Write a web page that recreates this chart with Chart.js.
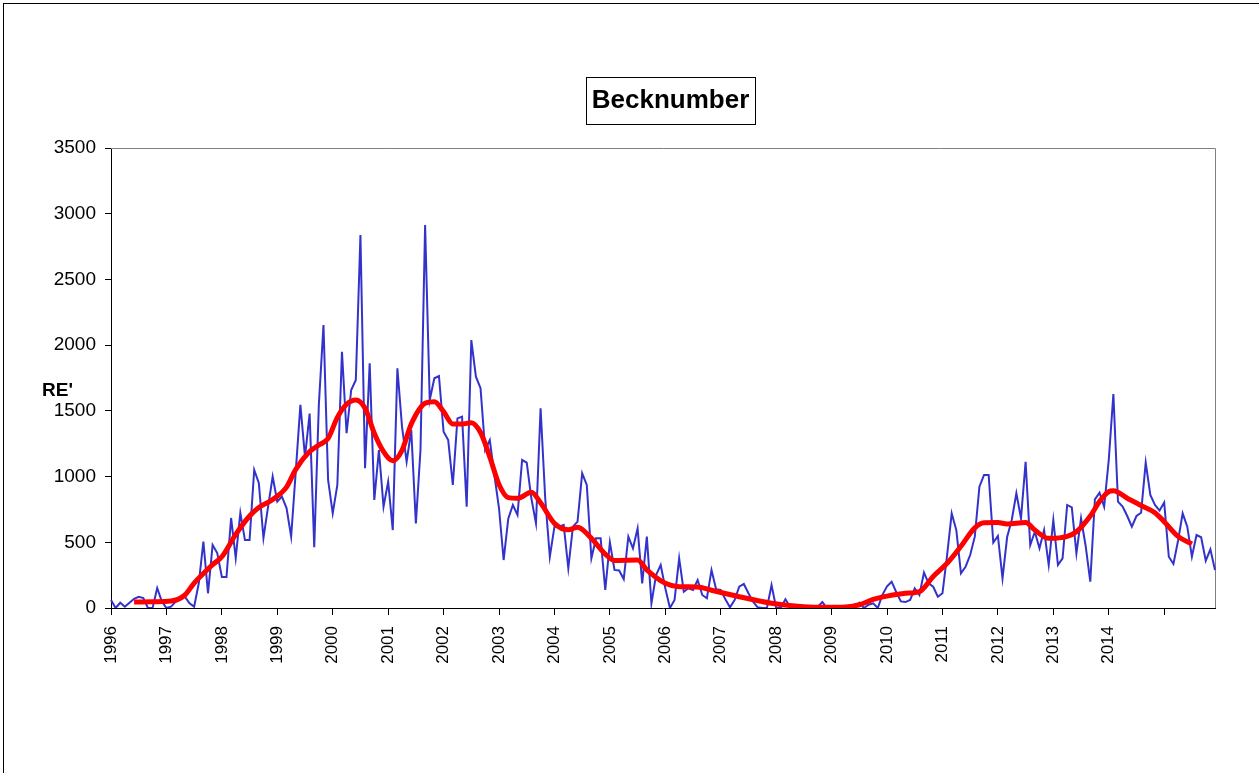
<!DOCTYPE html>
<html>
<head>
<meta charset="utf-8">
<script src="https://cdn.jsdelivr.net/npm/chart.js@4"></script>
<style>
html, body { margin: 0; padding: 0; background: #fff; }
#wrap { width: 1259px; height: 773px; position: relative; }
</style>
</head>
<body>
<div id="wrap"><canvas id="chart" width="1259" height="773"></canvas></div>
<script>
// monthly series, Jan 1996 .. Dec 2015
var firstYear = 1996;
var yearLabels = ['1996', '1997', '1998', '1999', '2000', '2001', '2002', '2003', '2004', '2005',
    '2006', '2007', '2008', '2009', '2010', '2011', '2012', '2013', '2014', ''];

var becknumber = [
    60, 0, 40, 10, 40, 70, 85, 76, 0, 0, 152, 50,
    0, 10, 48, 70, 86, 35, 10, 188, 505, 112, 480, 418,
    236, 236, 685, 380, 723, 517, 517, 1050, 951, 532, 770, 1000,
    810, 847, 760, 543, 1040, 1545, 1150, 1480, 462, 1550, 2153, 974,
    720, 936, 1950, 1330, 1659, 1735, 2838, 1063, 1862, 822, 1202, 771,
    961, 593, 1824, 1380, 1113, 1354, 644, 1202, 2914, 1583, 1748, 1765,
    1341, 1278, 936, 1443, 1456, 771, 2039, 1760, 1672, 1202, 1278, 1012,
    759, 365, 680, 784, 708, 1126, 1106, 835, 644, 1520, 835, 390,
    619, 619, 632, 302, 619, 657, 1025, 936, 378, 530, 530, 137,
    500, 290, 285, 220, 543, 454, 606, 188, 543, 36, 251, 327,
    150, 0, 61, 378, 124, 150, 137, 213, 99, 74, 289, 142,
    137, 66, 5, 61, 162, 183, 112, 48, 5, 0, 0, 175,
    0, 0, 66, 10, 0, 0, 0, 0, 0, 10, 45, 0,
    0, 0, 0, 0, 0, 0, 40, 0, 25, 35, 0, 100,
    165, 200, 120, 50, 45, 61, 150, 99, 269, 188, 162, 86,
    112, 400, 720, 593, 264, 314, 403, 543, 923, 1012, 1012, 497,
    548, 226, 540, 670, 873, 682, 1113, 479, 580, 454, 593, 327,
    670, 327, 378, 784, 766, 416, 682, 472, 200, 827, 877, 771,
    1126, 1628, 809, 771, 700, 619, 700, 725, 1106, 860, 784, 741,
    802, 390, 335, 512, 720, 619, 390, 555, 538, 360, 447, 289
];

var trendMonths = [5, 9, 13, 16, 18, 20, 22, 24, 27, 30, 32, 35, 38, 40, 43, 45, 47, 49, 51, 53,
    55, 57, 59, 61, 63, 65, 68, 70, 72, 74, 76, 78, 80, 82, 84, 86, 88, 91, 93, 96,
    99, 101, 104, 107, 109, 114, 116, 120, 123, 127, 130, 136, 143, 150, 155, 159, 162, 165, 168, 172,
    175, 178, 181, 184, 187, 189, 192, 194, 198, 200, 203, 207, 209, 212, 214, 216, 217, 220, 223, 226,
    228, 231, 234];
var trendValues = [45, 48, 53, 99, 190, 262, 330, 390, 560, 700, 765, 825, 920, 1055, 1190, 1240, 1290, 1450, 1550, 1583,
    1520, 1330, 1190, 1121, 1200, 1400, 1558, 1570, 1494, 1400, 1400, 1410, 1335, 1150, 940, 840, 835, 880, 800, 644,
    595, 615, 530, 410, 362, 365, 290, 188, 162, 160, 135, 86, 36, 10, 5, 8, 25, 65, 90, 112,
    125, 240, 340, 470, 610, 649, 650, 640, 650, 593, 530, 545, 580, 700, 810, 885, 893, 835, 780, 725,
    657, 545, 487];

var labels = [];
for (var i = 0; i < becknumber.length; i++) {
    labels.push((firstYear + Math.floor(i / 12)) + '-' + (i % 12 + 1));
}
var trend = becknumber.map(function() { return null; });
trendMonths.forEach(function(m, k) { trend[m] = trendValues[k]; });

var fontFam = 'Arial, "Liberation Sans", sans-serif';

var framePlugin = {
    id: 'frame',
    beforeDraw: function(chart) {
        var ctx = chart.ctx;
        ctx.save();
        ctx.fillStyle = '#fff';
        ctx.fillRect(0, 0, chart.width, chart.height);
        ctx.strokeStyle = '#000';
        ctx.lineWidth = 1;
        ctx.strokeRect(3.5, 3.5, chart.width + 10, chart.height + 10);
        ctx.restore();
    },
    beforeDatasetsDraw: function(chart) {
        var a = chart.chartArea, ctx = chart.ctx;
        ctx.save();
        ctx.strokeStyle = '#808080';
        ctx.lineWidth = 1;
        ctx.beginPath();
        ctx.moveTo(a.left, a.top + 0.5);
        ctx.lineTo(a.right + 0.5, a.top + 0.5);
        ctx.lineTo(a.right + 0.5, a.bottom);
        ctx.stroke();
        ctx.restore();
    },
    afterDraw: function(chart) {
        var ctx = chart.ctx;
        ctx.save();
        // title in a box
        ctx.font = 'bold 26px ' + fontFam;
        ctx.fillStyle = '#000';
        ctx.textAlign = 'center';
        ctx.textBaseline = 'middle';
        var cx = 670.5, cy = 101;
        var w = ctx.measureText('Becknumber').width + 12;
        ctx.fillText('Becknumber', cx, cy);
        ctx.strokeStyle = '#000';
        ctx.lineWidth = 1;
        ctx.strokeRect(Math.round(cx - w / 2) + 0.5, 77.5, Math.round(w), 47);
        // axis title
        ctx.font = 'bold 19px ' + fontFam;
        ctx.textAlign = 'left';
        ctx.fillText("RE'", 42, chart.chartArea.top + 243);
        ctx.restore();
    }
};

new Chart(document.getElementById('chart'), {
    type: 'line',
    data: {
        labels: labels,
        datasets: [
            {
                label: 'trend',
                data: trend,
                borderColor: '#ff0000',
                borderWidth: 5,
                pointRadius: 0,
                spanGaps: true,
                cubicInterpolationMode: 'monotone',
                borderCapStyle: 'butt',
                order: 0
            },
            {
                label: 'Becknumber',
                data: becknumber,
                borderColor: '#3333cc',
                borderWidth: 2,
                pointRadius: 0,
                tension: 0,
                order: 1
            }
        ]
    },
    options: {
        responsive: false,
        animation: false,
        devicePixelRatio: 1,
        layout: { padding: { top: 148, right: 44, left: 0, bottom: 0 } },
        plugins: {
            legend: { display: false },
            title: { display: false },
            tooltip: { enabled: false }
        },
        scales: {
            x: {
                type: 'category',
                offset: false,
                grid: { drawOnChartArea: false, color: '#000', tickLength: 7 },
                border: { color: '#000', width: 1 },
                ticks: {
                    autoSkip: false,
                    maxRotation: 90,
                    minRotation: 90,
                    padding: 11,
                    color: '#000',
                    font: { family: fontFam, size: 17 },
                    callback: function(v, i) {
                        if (i % 12 !== 0) return null;
                        return yearLabels[i / 12];
                    }
                },
                afterFit: function(s) { s.height = 165; }
            },
            y: {
                min: 0,
                max: 3500,
                grid: { drawOnChartArea: false, color: '#000', tickLength: 6 },
                border: { color: '#000', width: 1 },
                ticks: {
                    stepSize: 500,
                    padding: 9,
                    color: '#000',
                    font: { family: fontFam, size: 19 },
                    callback: function(v) { return String(v); }
                },
                afterFit: function(s) { s.width = 111; }
            }
        }
    },
    plugins: [framePlugin]
});
</script>
</body>
</html>
